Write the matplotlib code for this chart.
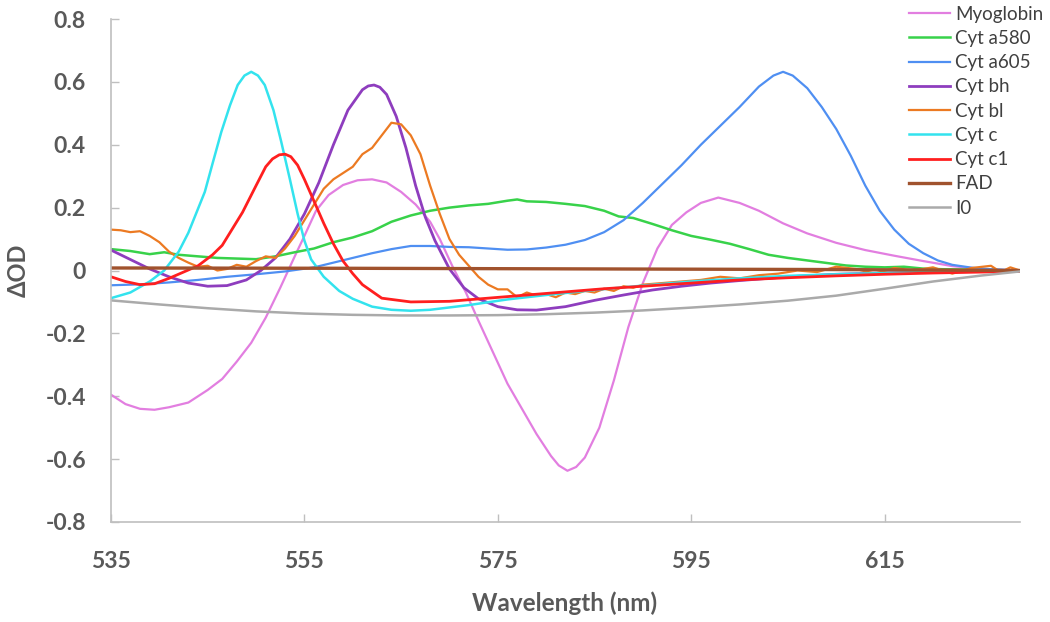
import matplotlib
matplotlib.use("Agg")
import matplotlib.pyplot as plt

# ---------------- data ----------------
myo_wl = [535, 536.5, 538, 539.5, 541, 543, 545, 546.5, 548, 549.5, 551, 552.5, 554, 555, 556.2, 557.5,
          559, 560.5, 562, 563.5, 565, 566.5, 568, 569, 570.3, 571.7, 573, 574.5, 576, 577.5, 579, 580.5,
          581.3, 582.2, 583.1, 584, 585.5, 587, 588.5, 590, 591.5, 593, 594.5, 596, 597.8, 600, 602, 604.5,
          607, 610, 613, 616, 619, 622, 625, 629]
myo_val = [-0.395, -0.425, -0.44, -0.443, -0.435, -0.42, -0.38, -0.345, -0.29, -0.23, -0.15, -0.055, 0.045,
           0.11, 0.19, 0.24, 0.272, 0.287, 0.29, 0.28, 0.25, 0.21, 0.155, 0.10, 0.014, -0.07, -0.16, -0.26,
           -0.36, -0.44, -0.52, -0.59, -0.62, -0.637, -0.625, -0.595, -0.50, -0.35, -0.18, -0.04, 0.07,
           0.145, 0.185, 0.215, 0.232, 0.215, 0.19, 0.15, 0.118, 0.088, 0.065, 0.047, 0.03, 0.014, 0.005,
           0.0]

a580_wl = [535, 537, 539, 540.5, 542, 544, 546, 548, 550, 552, 554, 556, 558, 560, 562, 564, 566, 568, 570,
           572, 574, 576, 577, 578, 580, 582, 584, 586, 587.5, 589, 591, 593, 595, 597, 599, 601, 603, 605,
           607, 609, 611, 613, 615, 617, 619, 621, 624, 629]
a580_val = [0.068, 0.062, 0.052, 0.058, 0.05, 0.045, 0.04, 0.038, 0.036, 0.045, 0.058, 0.07, 0.09, 0.105,
            0.125, 0.155, 0.175, 0.19, 0.20, 0.207, 0.212, 0.222, 0.226, 0.22, 0.218, 0.212, 0.205, 0.19,
            0.172, 0.167, 0.148, 0.128, 0.11, 0.098, 0.085, 0.068, 0.05, 0.04, 0.032, 0.024, 0.016, 0.012,
            0.01, 0.012, 0.006, 0.004, 0.003, 0.0]

a605_wl = [535, 538, 541, 544, 547, 550, 553, 556, 558, 560, 562, 564, 566, 568, 570, 572, 574, 576, 578,
           580, 582, 584, 586, 588, 590, 592, 594, 596, 598, 600, 602, 603.5, 604.5, 605.5, 607, 608.5, 610,
           611.5, 613, 614.5, 616, 617.5, 619, 620.5, 622, 624, 626, 629]
a605_val = [-0.047, -0.044, -0.038, -0.03, -0.02, -0.012, -0.003, 0.01, 0.025, 0.04, 0.055, 0.068, 0.078,
            0.078, 0.075, 0.074, 0.07, 0.066, 0.067, 0.073, 0.082, 0.097, 0.122, 0.16, 0.215, 0.275, 0.335,
            0.40, 0.46, 0.52, 0.585, 0.62, 0.632, 0.62, 0.58, 0.52, 0.45, 0.365, 0.27, 0.19, 0.13, 0.085,
            0.055, 0.032, 0.018, 0.009, 0.004, 0.0]

bh_wl = [535, 537, 539, 541, 543, 545, 547, 549, 550.5, 552, 553.5, 555, 556.5, 558, 559.5, 561, 561.6,
         562.2, 562.8, 563.5, 564.5, 565.5, 566.5, 567.5, 568.5, 570, 571.5, 573, 575, 577, 579, 582, 585,
         588, 591, 594, 597, 600, 605, 610, 615, 620, 625, 629]
bh_val = [0.065, 0.035, 0.005, -0.02, -0.04, -0.05, -0.048, -0.03, 0.0, 0.04, 0.10, 0.18, 0.28, 0.40, 0.51,
          0.575, 0.587, 0.59, 0.583, 0.56, 0.49, 0.39, 0.27, 0.17, 0.095, 0.005, -0.055, -0.09, -0.115,
          -0.125, -0.126, -0.115, -0.095, -0.078, -0.062, -0.05, -0.04, -0.032, -0.02, -0.012, -0.008,
          -0.005, -0.003, 0.0]

bl_wl = [535, 536, 537, 538, 539, 540, 541, 542, 543, 544, 545, 546, 547, 548, 549, 550, 551, 552, 553, 554,
         555, 556, 557, 558, 559, 560, 561, 562, 563, 564, 565, 566, 567, 568, 569, 570, 571, 572, 573, 574,
         575, 576, 577, 578, 579, 580, 581, 582, 583, 584, 585, 586, 587, 588, 589, 590, 592, 594, 596, 598,
         600, 602, 604, 606, 608, 610, 612, 614, 616, 618, 620, 622, 624, 626, 627, 628, 629]
bl_val = [0.13, 0.128, 0.122, 0.125, 0.11, 0.09, 0.06, 0.04, 0.025, 0.012, 0.015, 0.0, 0.005, 0.018, 0.012,
          0.03, 0.045, 0.04, 0.07, 0.11, 0.16, 0.21, 0.26, 0.29, 0.31, 0.33, 0.37, 0.39, 0.43, 0.47, 0.465,
          0.43, 0.37, 0.27, 0.18, 0.10, 0.05, 0.015, -0.02, -0.045, -0.06, -0.06, -0.085, -0.07, -0.08,
          -0.075, -0.085, -0.07, -0.075, -0.065, -0.07, -0.058, -0.065, -0.05, -0.055, -0.045, -0.04,
          -0.035, -0.03, -0.02, -0.025, -0.015, -0.01, 0.0, -0.005, 0.012, 0.005, -0.01, 0.008, 0.0, 0.01,
          -0.01, 0.008, 0.015, -0.005, 0.01, 0.0]

c_wl = [535, 537, 539, 540.5, 542, 543, 544.7, 545.5, 546.4, 547.3, 548.1, 548.8, 549.5, 550.2, 550.9,
        551.8, 552.6, 553.5, 554.3, 555, 555.7, 557, 558.6, 560, 562, 564, 566, 568, 572, 576, 580, 585,
        590, 595, 600, 605, 610, 615, 620, 625, 629]
c_val = [-0.088, -0.07, -0.035, 0.0, 0.06, 0.12, 0.25, 0.34, 0.44, 0.525, 0.59, 0.62, 0.632, 0.62, 0.59,
         0.51, 0.41, 0.29, 0.18, 0.095, 0.035, -0.02, -0.065, -0.09, -0.115, -0.125, -0.128, -0.125, -0.11,
         -0.092, -0.078, -0.062, -0.048, -0.035, -0.025, -0.017, -0.012, -0.008, -0.005, -0.003, 0.0]

c1_wl = [535, 536.5, 538, 539.5, 541, 542.5, 544, 545.5, 546.5, 547.5, 548.6, 550, 551, 551.7, 552.4, 553,
         553.6, 554.3, 555, 556, 557, 558, 559, 560, 561, 563, 566, 570, 574, 578, 582, 586, 590, 595, 600,
         605, 610, 615, 620, 625, 629]
c1_val = [-0.02, -0.035, -0.045, -0.042, -0.025, -0.005, 0.015, 0.05, 0.08, 0.13, 0.185, 0.27, 0.33, 0.355,
          0.368, 0.37, 0.362, 0.335, 0.29, 0.22, 0.15, 0.085, 0.03, -0.01, -0.045, -0.088, -0.10, -0.098,
          -0.088, -0.078, -0.068, -0.058, -0.05, -0.04, -0.03, -0.023, -0.017, -0.012, -0.008, -0.005,
          -0.003]

fad_wl = [535, 560, 585, 610, 629]
fad_val = [0.008, 0.007, 0.005, 0.003, 0.0]

i0_wl = [535, 540, 545, 550, 555, 560, 565, 570, 575, 580, 585, 590, 595, 600, 605, 610, 615, 620, 625, 629]
i0_val = [-0.095, -0.108, -0.12, -0.13, -0.137, -0.141, -0.143, -0.143, -0.142, -0.139, -0.134, -0.127,
          -0.118, -0.108, -0.096, -0.08, -0.058, -0.035, -0.016, -0.003]

series_names = ["Myoglobin", "Cyt a580", "Cyt a605", "Cyt bh", "Cyt bl", "Cyt c", "Cyt c1", "FAD", "I0"]
x_ticks = [535, 555, 575, 595, 615]
y_ticks = [-0.8, -0.6, -0.4, -0.2, 0, 0.2, 0.4, 0.6, 0.8]
y_tick_labels = ["-0.8", "-0.6", "-0.4", "-0.2", "0", "0.2", "0.4", "0.6", "0.8"]

# ---------------- styling ----------------
plt.rcParams['font.family'] = ['Lato', 'DejaVu Sans']
series = [
    (myo_wl, myo_val, '#E27EE0', 1.6),
    (a580_wl, a580_val, '#38D24A', 1.8),
    (a605_wl, a605_val, '#4F8FF2', 1.6),
    (bh_wl, bh_val, '#8E3DBE', 2.0),
    (bl_wl, bl_val, '#EC7A22', 1.6),
    (c_wl, c_val, '#33E3EE', 1.8),
    (c1_wl, c1_val, '#FF1F1F', 2.0),
    (fad_wl, fad_val, '#A0522D', 2.4),
    (i0_wl, i0_val, '#AAAAAA', 1.8),
]

W, H = 1050, 622
fig = plt.figure(figsize=(W / 100, H / 100), dpi=100)
ax = fig.add_axes([111 / W, 1 - 522 / H, (1020 - 111) / W, (522 - 19) / H])

for (wl, val, col, lw), name in zip(series, series_names):
    ax.plot(wl, val, color=col, lw=lw, label=name, solid_joinstyle='round')

ax.set_xlim(535, 629)
ax.set_ylim(-0.8, 0.8)
ax.set_xticks(x_ticks)
ax.set_yticks(y_ticks)
ax.set_yticklabels(y_tick_labels)

for s in ['top', 'right']:
    ax.spines[s].set_visible(False)
for s in ['left', 'bottom']:
    ax.spines[s].set_color('#BFBFBF')
    ax.spines[s].set_linewidth(1.2)

ax.tick_params(axis='both', direction='in', length=6, width=1, color='#BFBFBF',
               labelcolor='#595959', labelsize=16.5)
ax.tick_params(axis='y', pad=18)
ax.tick_params(axis='x', pad=21)
for lab in ax.get_xticklabels() + ax.get_yticklabels():
    lab.set_fontweight('bold')

fig.text(565 / W, 1 - 603 / H, "Wavelength (nm)", fontsize=17.5, fontweight='bold', color='#595959',
         ha='center', va='center')
fig.text(18 / W, 1 - 270 / H, "ΔOD", fontsize=17, fontweight='bold', color='#595959',
         ha='center', va='center', rotation=90)

leg = fig.legend(loc='upper left', bbox_to_anchor=(905 / W, 1 - 2 / H), frameon=False,
                 fontsize=13.5, handlelength=2.2, handletextpad=0.27, labelspacing=0.385,
                 borderaxespad=0, borderpad=0.2)
for t in leg.get_texts():
    t.set_color('#404040')

fig.savefig("out.png", dpi=100)
